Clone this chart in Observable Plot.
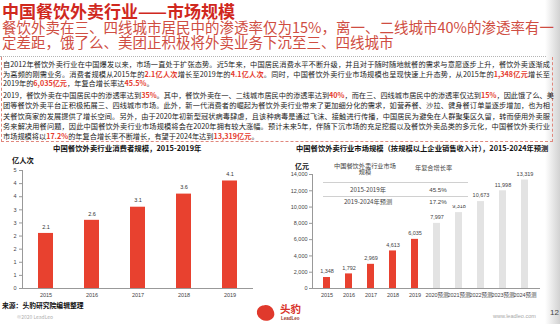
<!DOCTYPE html>
<html><head><meta charset="utf-8">
<script src="https://cdn.jsdelivr.net/npm/d3@7"></script>
<script src="https://cdn.jsdelivr.net/npm/@observablehq/plot@0.6"></script>
<style>
html,body{margin:0;padding:0;background:#fff;}
#slide{position:relative;width:560px;height:324px;overflow:hidden;font-family:"Noto Sans CJK SC","Noto Sans",sans-serif;background:#fff;}
.abs{position:absolute;white-space:nowrap;}
.ln{position:absolute;left:3px;width:547px;height:10px;line-height:10px;font-size:7.2px;color:#1a1a1a;white-space:nowrap;text-align:justify;text-align-last:justify;}
.ln.last{text-align-last:left;}
.hl{color:#e53b2e;font-weight:bold;}
.sub{position:absolute;left:2px;font-size:14.5px;line-height:14px;color:#cf4d42;white-space:nowrap;}
.plotbox{position:absolute;top:165px;}
</style></head>
<body><div id="slide">
<div class="abs" style="left:545px;top:0;width:15px;height:324px;background:linear-gradient(to right,#fff,#d2d2d2);"></div>
<div class="abs" style="left:2px;top:2px;font-size:17px;line-height:17px;font-weight:bold;color:#d0281e;">中国餐饮外卖行业——市场规模</div>
<div class="sub" style="top:19.5px;width:538px;text-align:justify;text-align-last:justify;">餐饮外卖在三、四线城市居民中的渗透率仅为15%，离一、二线城市40%的渗透率有一</div>
<div class="sub" style="top:34.5px;">定差距，饿了么、美团正积极将外卖业务下沉至三、四线城市</div>
<div class="abs" style="left:0;top:56px;width:546px;border-top:1px dotted #b5b5b5;"></div>
<div class="abs" style="left:1px;top:57px;width:550px;height:84px;border:1px dashed #e0877d;border-top:none;"></div>
<div id="body"></div>

<div class="abs" style="left:53px;top:143px;font-size:7.4px;line-height:10px;font-weight:bold;color:#111;">中国餐饮外卖行业消费者规模，2015-2019年</div>
<div class="abs" style="left:296px;top:143px;font-size:7.3px;line-height:10px;font-weight:bold;color:#111;">中国餐饮外卖行业市场规模（按规模以上企业销售收入计），2015-2024年预测</div>
<div class="abs" style="left:12px;top:155px;font-size:7.3px;line-height:10px;font-weight:bold;color:#111;">亿人次</div>
<div class="abs" style="left:295px;top:161px;font-size:7px;line-height:10px;font-weight:bold;color:#111;">亿元</div>

<div class="plotbox" id="leftChart" style="left:0;"></div>
<div class="plotbox" id="rightChart" style="left:280px;"></div>

<div class="abs" id="table" style="left:323px;top:161px;width:145px;height:44px;background:#fff;font-size:6.2px;color:#444;">
  <div class="abs" style="left:8px;top:2px;width:68px;text-align:center;white-space:normal;line-height:6px;">中国餐饮外卖行业市场规模</div>
  <div class="abs" style="left:92px;top:3.5px;width:36px;text-align:center;line-height:6px;">年复合增长率</div>
  <div class="abs" style="left:0;top:20.5px;width:145px;border-top:1px solid #d0d0d0;"></div>
  <div class="abs" style="left:0;top:35px;width:145px;border-top:1px solid #d0d0d0;"></div>
  <div class="abs" id="trows"></div>
</div>

<div class="abs" style="left:2px;top:300px;font-size:6.8px;line-height:10px;font-weight:bold;color:#111;">来源：头豹研究院编辑整理</div>
<div class="abs" style="left:17px;top:313px;font-size:5px;line-height:7px;color:#b0b0b0;">©2020 LeadLeo</div>
<div class="abs" style="left:257px;top:305px;width:17px;height:16px;background:#e0392c;border-radius:45% 55% 40% 60%;transform:rotate(-15deg);"></div>
<div class="abs" style="left:280px;top:302px;font-size:10.5px;line-height:13px;font-weight:bold;color:#d8312a;">头豹</div>
<div class="abs" style="left:281px;top:316px;font-size:4.5px;line-height:6px;font-weight:bold;color:#9a3a30;font-family:'Liberation Sans',sans-serif;">LeadLeo</div>
<div class="abs" style="left:493px;top:313px;font-size:5.5px;line-height:7px;color:#a8a8a8;font-family:'Liberation Sans',sans-serif;">www.leadleo.com</div>
<div class="abs" style="left:550px;top:308px;font-size:8px;line-height:10px;color:#444;font-family:'Liberation Sans',sans-serif;">12</div>
</div>

<script>
// ---- data ----
const consumerYears = ["2015", "2016", "2017", "2018", "2019"];
const consumerValues = [2.1, 2.6, 3.1, 3.6, 4.1];
const consumerTicks = [0, 0.5, 1, 1.5, 2, 2.5, 3, 3.5, 4, 4.5];
const consumerTickLabels = ["0", "1", "1", "2", "2", "3", "3", "4", "4", "5"];

const marketYears = ["2015", "2016", "2017", "2018", "2019", "2020预测", "2021预测", "2022预测", "2023预测", "2024预测"];
const marketValues = [1348, 1792, 2969, 4613, 6035, 7997, 9318, 10673, 11998, 13319];
const marketKinds = ["实际", "实际", "实际", "实际", "实际", "预测", "预测", "预测", "预测", "预测"];
const marketTicks = [0, 2000, 4000, 6000, 8000, 10000, 12000, 14000];

const cagrPeriods = ["2015-2019年", "2019-2024年预测"];
const cagrValues = ["45.5%", "17.2%"];

const bodyLines = [
  "自2012年餐饮外卖行业在中国爆发以来，市场一直处于扩张态势。近5年来，中国居民消费水平不断升级，并且对于随时随地就餐的需求与意愿逐步上升，餐饮外卖逐渐成",
  "为高频的刚需业务。消费者规模从2015年的[2.1亿人次]增长至2019年的[4.1亿人次]。同时，中国餐饮外卖行业市场规模也呈现快速上升态势，从2015年的[1,348亿元]增长至",
  "2019年的[6,035亿元]，年复合增长率达[45.5%]。",
  "2019，餐饮外卖在中国居民中的渗透率达到[35%]。其中，餐饮外卖在一、二线城市居民中的渗透率达到[40%]，而在三、四线城市居民中的渗透率仅达到[15%]，因此饿了么、美",
  "团等餐饮外卖平台正积极拓展三、四线城市市场。此外，新一代消费者的崛起为餐饮外卖行业带来了更加细分化的需求，如营养餐、沙拉、健身餐订单量逐步增加，也为相",
  "关餐饮商家的发展提供了增长空间。另外，由于2020年初新型冠状病毒肆虐，且该种病毒是通过飞沫、接触进行传播，中国居民为避免在人群聚集区久留，转而使用外卖服",
  "务来解决用餐问题，因此中国餐饮外卖行业市场规模将会在2020年拥有较大涨幅。预计未来5年，伴随下沉市场的充足挖掘以及餐饮外卖品类的多元化，中国餐饮外卖行业",
  "市场规模将以[17.2%]的年复合增长率不断增长，有望于2024年达到[13,319亿元]。"
];
const bodyLineCenters = [64, 73.6, 83.2, 95, 105.2, 115.5, 125.8, 136];
const bodyLastLines = [2, 7];

// ---- body text ----
const body = document.getElementById("body");
bodyLines.forEach((t, i) => {
  const d = document.createElement("div");
  d.className = "ln" + (bodyLastLines.includes(i) ? " last" : "");
  d.style.top = (bodyLineCenters[i] - 5) + "px";
  d.innerHTML = t.replace(/\[([^\]]+)\]/g, '<span class="hl">$1</span>');
  body.appendChild(d);
});

// ---- table rows ----
const trows = document.getElementById("trows");
cagrPeriods.forEach((p, i) => {
  const top = i === 0 ? 24.5 : 37;
  trows.insertAdjacentHTML("beforeend",
    `<div class="abs" style="left:5px;top:${top}px;width:80px;text-align:center;line-height:7px;">${p}</div>` +
    `<div class="abs" style="left:100px;top:${top}px;width:30px;text-align:center;line-height:7px;font-family:'Liberation Sans',sans-serif;">${cagrValues[i]}</div>`);
});

// ---- charts ----
const consumer = consumerYears.map((y, i) => ({year: y, value: consumerValues[i]}));
const market = marketYears.map((y, i) => ({year: y, value: marketValues[i], kind: marketKinds[i]}));

const axisStyle = {fontFamily: "'Liberation Sans','Noto Sans CJK SC',sans-serif", fontSize: "5.5px", color: "#444", background: "none", overflow: "visible"};

const left = Plot.plot({
  width: 270, height: 140,
  marginLeft: 22, marginRight: 17, marginTop: 5, marginBottom: 17,
  style: axisStyle,
  x: {domain: consumerYears, paddingInner: 0.676, paddingOuter: 0.338, label: null},
  y: {domain: [0, 4.5], label: null},
  marks: [
    Plot.barY(consumer, {x: "year", y: "value", fill: "#e8412f"}),
    Plot.text(consumer, {x: "year", y: "value", text: d => d.value.toFixed(1), dy: -6.5, fill: "#333"}),
    Plot.ruleY([0], {stroke: "#999"}),
    Plot.frame({anchor: "left", stroke: "#999"}),
    Plot.axisX({tickSize: 0, tickPadding: 4.5, label: null}),
    Plot.axisY({ticks: consumerTicks, tickFormat: d => consumerTickLabels[consumerTicks.indexOf(d)], tickSize: 3, tickPadding: 3, stroke: "#999", label: null})
  ]
});
document.getElementById("leftChart").appendChild(left);

const right = Plot.plot({
  width: 270, height: 140,
  marginLeft: 32, marginRight: 10, marginTop: 9, marginBottom: 17,
  style: axisStyle,
  x: {domain: marketYears, paddingInner: 0.68, paddingOuter: 0.34, label: null},
  y: {domain: [0, 14000], label: null},
  color: {domain: ["实际", "预测"], range: ["#e8412f", "#e3e3e3"]},
  marks: [
    Plot.barY(market, {x: "year", y: "value", fill: "kind"}),
    Plot.text(market, {x: "year", y: "value", text: d => d3.format(",")(d.value), dy: -6, fill: "#444"}),
    Plot.ruleY([0], {stroke: "#999"}),
    Plot.frame({anchor: "left", stroke: "#999"}),
    Plot.axisX({tickSize: 0, tickPadding: 4.5, label: null}),
    Plot.axisY({ticks: marketTicks, tickFormat: d3.format(","), tickSize: 3, tickPadding: 2, stroke: "#999", label: null})
  ]
});
document.getElementById("rightChart").appendChild(right);
</script>
</body></html>
